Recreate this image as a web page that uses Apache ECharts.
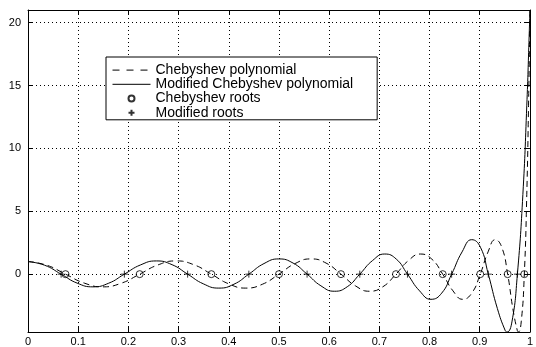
<!DOCTYPE html>
<html>

<head>
    <meta charset="utf-8">
    <title>Chebyshev polynomial</title>
    <script src="https://cdn.jsdelivr.net/npm/echarts@6/dist/echarts.min.js"></script>
</head>

<body style="margin:0;background:#fff;">
    <div id="main" style="width: 536px;height:347px;"></div>
    <script type="text/javascript">
        // values
        var chebX = [0, 0.0374, 0.0747, 0.1120, 0.1490, 0.1859, 0.2225, 0.2588, 0.2948, 0.3303, 0.3653,
            0.3999, 0.4339, 0.4672, 0.5, 0.5320, 0.5633, 0.5938, 0.6235, 0.6523, 0.6802, 0.7071, 0.7331,
            0.7580, 0.7818, 0.8046, 0.8262, 0.8467, 0.8660, 0.8841, 0.9010, 0.9166, 0.9309, 0.9439, 0.9556,
            0.9659, 0.9749, 0.9771, 0.9826, 0.9888, 0.9937, 0.9972, 0.9993, 1];
        var chebY = [1, 0.71, 0, -0.71, -1.01, -0.72, 0, 0.73, 1.05, 0.75, 0,
            -0.77, -1.11, -0.80, 0, 0.84, 1.21, 0.88, 0, -0.93, -1.36, -1.00, 0,
            1.08, 1.60, 1.19, 0, -1.33, -2.00, -1.51, 0, 1.77, 2.74, 2.14, 0,
            -2.73, -4.49, -4.60, -3.80, 0, 6.32, 13.38, 18.91, 21];

        var modX = [0, 0.0330, 0.066, 0.0977, 0.1294, 0.1608, 0.192, 0.2240, 0.2557, 0.2871, 0.318,
            0.3493, 0.3801, 0.4103, 0.440, 0.4701, 0.4995, 0.5281, 0.556, 0.5836, 0.6103, 0.6361, 0.661,
            0.6864, 0.7107, 0.7339, 0.756, 0.7801, 0.8029, 0.8242, 0.844, 0.8648, 0.8840, 0.9014, 0.917,
            0.9351, 0.9508, 0.9545, 0.9641, 0.975, 0.9859, 0.9937, 0.9984, 1];
        var modY = [1, 0.71, 0, -0.71, -1.01, -0.72, 0, 0.73, 1.05, 0.75, 0,
            -0.77, -1.11, -0.80, 0, 0.84, 1.21, 0.88, 0, -0.93, -1.36, -1.00, 0,
            1.08, 1.60, 1.19, 0, -1.33, -2.00, -1.51, 0, 1.77, 2.74, 2.14, 0,
            -2.73, -4.49, -4.60, -3.80, 0, 6.32, 13.38, 18.91, 21];

        var chebRoots = [0.0747, 0.2225, 0.3653, 0.5, 0.6235, 0.7331, 0.8262, 0.9010, 0.9556, 0.9888];
        var modRoots = [0.066, 0.192, 0.318, 0.440, 0.556, 0.661, 0.756, 0.844, 0.917, 0.975];

        var names = ['Chebyshev polynomial', 'Modified Chebyshev polynomial', 'Chebyshev roots', 'Modified roots'];

        function pairs(xs, ys) {
            return xs.map(function (x, i) { return [x, ys[i]]; });
        }
        function onAxis(xs) {
            return xs.map(function (x) { return [x, 0]; });
        }

        var font = 'Liberation Sans, Arial, Helvetica, sans-serif';
        var gridLine = { show: true, lineStyle: { color: '#000', width: 1, type: [1, 3] } };
        var tick = { show: true, inside: true, length: 5, lineStyle: { color: '#000' } };
        var axisLine = { show: true, onZero: false, lineStyle: { color: '#000', width: 1 } };
        // hide the symbol that ECharts puts in the middle of a line legend icon
        var noSymbol = { color: 'rgba(0,0,0,0)', borderWidth: 0 };

        var myChart = echarts.init(document.getElementById('main'));

        var option = {
            animation: false,
            backgroundColor: '#fff',
            grid: { left: 28, right: 4, top: 10, bottom: 14 },
            legend: {
                data: [
                    { name: names[0], itemStyle: noSymbol, lineStyle: { type: [7, 7] } },
                    { name: names[1], itemStyle: noSymbol },
                    { name: names[2] },
                    { name: names[3] }
                ],
                orient: 'vertical',
                left: 106,
                top: 57,
                padding: [6, 24, 0, 6],
                itemGap: 0,
                itemWidth: 38,
                itemHeight: 6,
                borderColor: '#000',
                borderWidth: 1,
                backgroundColor: '#fff',
                selectedMode: false,
                lineStyle: { width: 1 },
                textStyle: { fontSize: 14, fontFamily: font, color: '#000', lineHeight: 14.2 }
            },
            xAxis: [{
                type: 'value', min: 0, max: 1, interval: 0.1,
                axisLine: axisLine, axisTick: tick, splitLine: gridLine,
                axisLabel: { margin: 4, fontSize: 11, fontFamily: font, color: '#000' }
            }, {
                type: 'value', position: 'top', min: 0, max: 1, interval: 0.1,
                axisLine: axisLine, axisTick: tick, splitLine: { show: false },
                axisLabel: { show: false }
            }],
            yAxis: [{
                type: 'value', min: -4.6, max: 21,
                axisLine: axisLine, axisTick: tick, splitLine: gridLine,
                axisLabel: {
                    margin: 7, fontSize: 11, fontFamily: font, color: '#000',
                    showMinLabel: false, showMaxLabel: false
                }
            }, {
                type: 'value', position: 'right', min: -4.6, max: 21,
                axisLine: axisLine, axisTick: tick, splitLine: { show: false },
                axisLabel: { show: false }
            }],
            series: [{
                name: names[0],
                type: 'line',
                data: pairs(chebX, chebY),
                symbol: 'none',
                smooth: true,
                lineStyle: { color: '#000', width: 1, type: [6, 4] },
                itemStyle: { color: '#000' }
            }, {
                name: names[1],
                type: 'line',
                data: pairs(modX, modY),
                symbol: 'none',
                smooth: true,
                lineStyle: { color: '#000', width: 1 },
                itemStyle: { color: '#000' }
            }, {
                name: names[2],
                type: 'scatter',
                data: onAxis(chebRoots),
                symbol: 'circle',
                symbolSize: 7,
                z: 5,
                itemStyle: { color: 'rgba(0,0,0,0)', borderColor: '#000', borderWidth: 1 }
            }, {
                name: names[3],
                type: 'scatter',
                data: onAxis(modRoots),
                symbol: 'path://M0,4L8,4M4,0L4,8',
                symbolSize: 7,
                z: 5,
                itemStyle: { color: '#000', borderColor: '#000', borderWidth: 1 }
            }]
        };

        myChart.setOption(option);
    </script>
</body>

</html>
